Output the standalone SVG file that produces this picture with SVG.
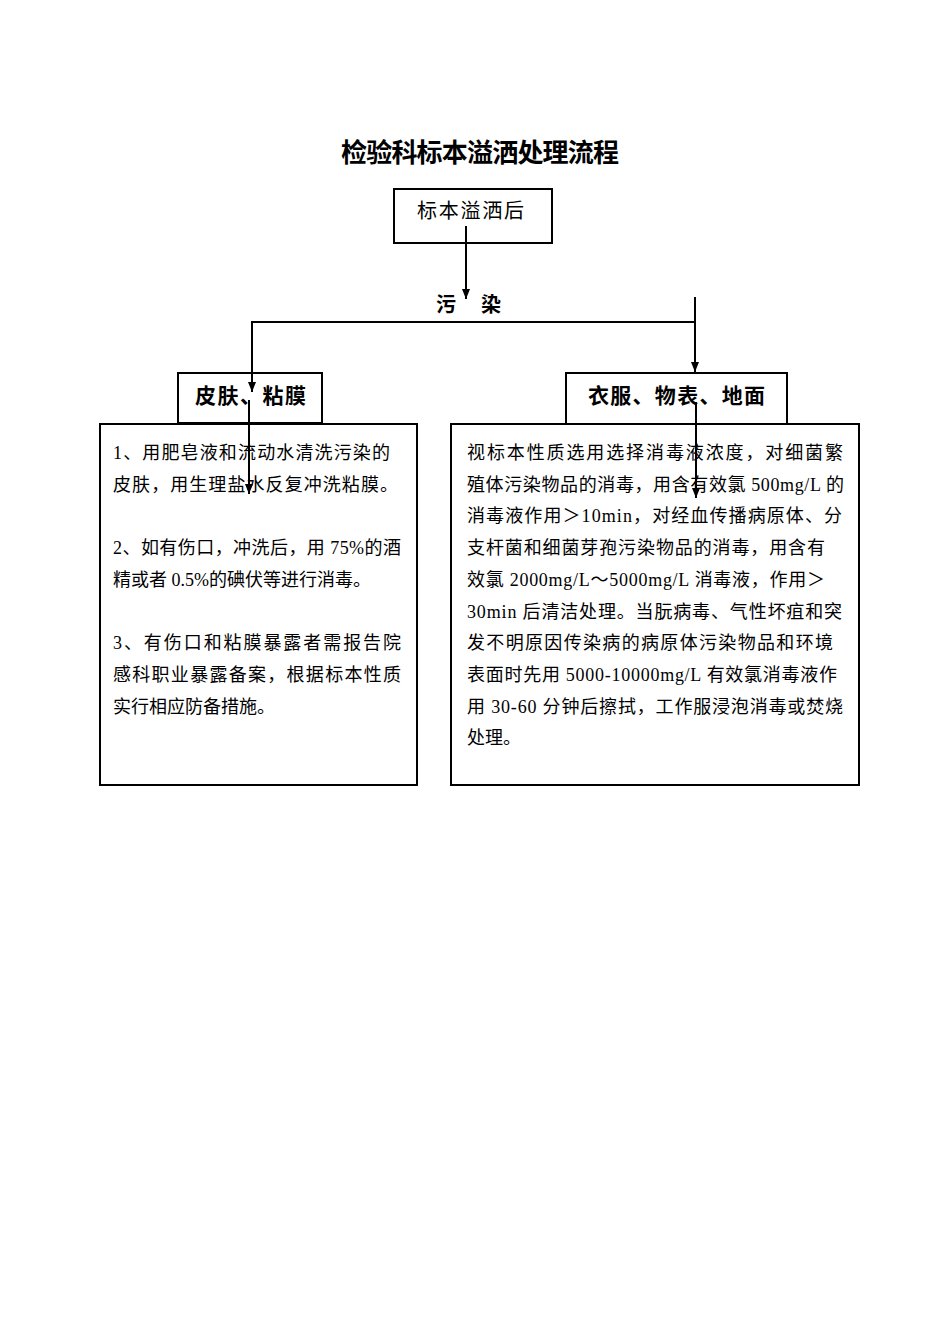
<svg xmlns="http://www.w3.org/2000/svg" width="950" height="1344" viewBox="0 0 950 1344">
<style>
.box{fill:#fff;stroke:#000;stroke-width:2}
.ln{fill:none;stroke:#000;stroke-width:2}
.t{font-family:"Liberation Serif","Noto Sans CJK SC",serif;fill:#000}
.h{font-family:"Liberation Sans","Noto Sans CJK SC",sans-serif;fill:#000;font-weight:bold}
.b{font-size:18px}
</style>
<defs>
<marker id="ah" markerWidth="10" markerHeight="8" refX="10" refY="4" orient="auto" markerUnits="userSpaceOnUse" viewBox="0 0 10 8">
<path d="M0,0 L10,4 L0,8 z" fill="#000"/>
</marker>
</defs>
<rect width="950" height="1344" fill="#fff"/>
<text class="h" x="341" y="162" font-size="26" textLength="278" lengthAdjust="spacing">检验科标本溢洒处理流程</text>

<g id="start">
<rect class="box" x="394" y="189" width="158" height="54"/>
<text class="h" x="417" y="218" font-size="20" textLength="107" lengthAdjust="spacing" style="font-weight:normal">标本溢洒后</text>
</g>

<g id="pollute">
<text class="h" x="436 456 481" y="312" font-size="20">污 染</text>
</g>

<g id="skin">
<rect class="box" x="178" y="373" width="144" height="50"/>
<text class="h" x="195" y="403" font-size="21" textLength="111" lengthAdjust="spacing">皮肤、粘膜</text>
</g>

<g id="surface">
<rect class="box" x="566" y="373" width="221" height="51"/>
<text class="h" x="588" y="403" font-size="21" textLength="177" lengthAdjust="spacing">衣服、物表、地面</text>
</g>

<g id="skin-text">
<rect class="box" x="100" y="424" width="317" height="361"/>
<text class="t b" x="113" y="459" textLength="277" lengthAdjust="spacing">1、用肥皂液和流动水清洗污染的</text>
<text class="t b" x="113" y="491" textLength="285" lengthAdjust="spacing">皮肤，用生理盐水反复冲洗粘膜。</text>
<text class="t b" x="113" y="554" textLength="288" lengthAdjust="spacing">2、如有伤口，冲洗后，用 75%的酒</text>
<text class="t b" x="113" y="586">精或者 0.5%的碘伏等进行消毒。</text>
<text class="t b" x="113" y="649" textLength="288" lengthAdjust="spacing">3、有伤口和粘膜暴露者需报告院</text>
<text class="t b" x="113" y="681" textLength="288" lengthAdjust="spacing">感科职业暴露备案，根据标本性质</text>
<text class="t b" x="113" y="713">实行相应防备措施。</text>
</g>

<g id="surface-text">
<rect class="box" x="451" y="424" width="408" height="361"/>
<text class="t b" x="467" y="459" textLength="376" lengthAdjust="spacing">视标本性质选用选择消毒液浓度，对细菌繁</text>
<text class="t b" x="467" y="491" textLength="377" lengthAdjust="spacing">殖体污染物品的消毒，用含有效氯 500mg/L 的</text>
<text class="t b" x="467" y="522" textLength="375" lengthAdjust="spacing">消毒液作用＞10min，对经血传播病原体、分</text>
<text class="t b" x="467" y="554" textLength="358" lengthAdjust="spacing">支杆菌和细菌芽孢污染物品的消毒，用含有</text>
<text class="t b" x="467" y="586" textLength="358" lengthAdjust="spacing">效氯 2000mg/L～5000mg/L 消毒液，作用＞</text>
<text class="t b" x="467" y="618" textLength="375" lengthAdjust="spacing">30min 后清洁处理。当朊病毒、气性坏疽和突</text>
<text class="t b" x="467" y="649" textLength="366" lengthAdjust="spacing">发不明原因传染病的病原体污染物品和环境</text>
<text class="t b" x="467" y="681" textLength="370" lengthAdjust="spacing">表面时先用 5000-10000mg/L 有效氯消毒液作</text>
<text class="t b" x="467" y="713" textLength="376" lengthAdjust="spacing">用 30-60 分钟后擦拭，工作服浸泡消毒或焚烧</text>
<text class="t b" x="467" y="744">处理。</text>
</g>

<g id="connectors">
<line class="ln" x1="466" y1="226" x2="466" y2="299" marker-end="url(#ah)"/>
<line class="ln" x1="251" y1="322" x2="696" y2="322"/>
<line class="ln" x1="252" y1="321" x2="252" y2="392" marker-end="url(#ah)"/>
<line class="ln" x1="695" y1="297" x2="695" y2="372" marker-end="url(#ah)"/>
<line class="ln" x1="249" y1="400" x2="249" y2="494" marker-end="url(#ah)"/>
<line class="ln" x1="696" y1="402" x2="696" y2="498" marker-end="url(#ah)"/>
</g>
</svg>
